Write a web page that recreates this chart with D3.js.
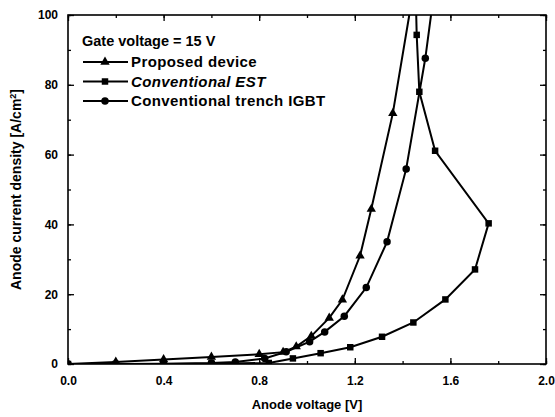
<!DOCTYPE html>
<html>
<head>
<meta charset="utf-8">
<script src="https://cdn.jsdelivr.net/npm/d3@7"></script>
<style>
  body { margin: 0; background: #fff; }
  svg { font-family: "Liberation Sans", Arial, sans-serif; }
</style>
</head>
<body>
<svg id="chart" width="555" height="417"></svg>
<script>
// data
const seriesNames = ["Proposed device", "Conventional EST", "Conventional trench IGBT"];
const seriesShapes = ["triangle", "square", "circle"];

const proposedV = [0.0, 0.2, 0.4, 0.6, 0.8, 0.9, 0.955, 1.018, 1.093, 1.148, 1.222, 1.269, 1.359, 1.428];
const proposedJ = [0.0, 0.6, 1.3, 2.0, 2.8, 3.4, 5.0, 8.0, 13.2, 18.4, 31.0, 44.4, 71.8, 100];

const estV = [0.0, 0.2, 0.4, 0.6, 0.84, 0.941, 1.057, 1.181, 1.314, 1.445, 1.579, 1.703, 1.760, 1.536, 1.470, 1.459, 1.457];
const estJ = [0.0, 0.0, 0.0, 0.1, 0.3, 1.6, 3.1, 4.8, 7.8, 11.9, 18.5, 27.1, 40.3, 61.1, 78.0, 94.3, 100];

const trenchV = [0.0, 0.2, 0.4, 0.6, 0.7, 0.823, 0.913, 1.011, 1.074, 1.156, 1.248, 1.335, 1.415, 1.495, 1.519];
const trenchJ = [0.0, 0.0, 0.1, 0.3, 0.6, 1.6, 3.5, 6.4, 9.2, 13.7, 21.9, 35.0, 55.9, 87.6, 100];

const xTicks = [0.0, 0.4, 0.8, 1.2, 1.6, 2.0];
const yTicks = [0, 20, 40, 60, 80, 100];

const legendTitle = "Gate voltage = 15 V";

const svg = d3.select("#chart");
const margin = { left: 68, right: 9, top: 15, bottom: 53 };
const width = 555 - margin.left - margin.right;
const height = 417 - margin.top - margin.bottom;

const x = d3.scaleLinear().domain([0, 2]).range([0, width]);
const y = d3.scaleLinear().domain([0, 100]).range([height, 0]);

const g = svg.append("g").attr("transform", `translate(${margin.left},${margin.top})`);

g.append("clipPath").attr("id", "clip")
  .append("rect").attr("width", width).attr("height", height);

// ticks, inward on all four sides
const minorX = d3.range(0, 2.01, 0.2);
const minorY = d3.range(0, 101, 10);

function tickStyle(sel) {
  sel.select(".domain").remove();
  sel.selectAll("line").attr("stroke", "#000").attr("stroke-width", 1.3);
}

g.append("g").attr("transform", `translate(0,${height})`)
  .call(d3.axisBottom(x).tickValues(minorX).tickSize(-3).tickFormat(""))
  .call(tickStyle);
g.append("g")
  .call(d3.axisTop(x).tickValues(minorX).tickSize(-3).tickFormat(""))
  .call(tickStyle);
g.append("g")
  .call(d3.axisLeft(y).tickValues(minorY).tickSize(-3).tickFormat(""))
  .call(tickStyle);
g.append("g").attr("transform", `translate(${width},0)`)
  .call(d3.axisRight(y).tickValues(minorY).tickSize(-3).tickFormat(""))
  .call(tickStyle);

const xAxis = g.append("g").attr("transform", `translate(0,${height})`)
  .call(d3.axisBottom(x).tickValues(xTicks).tickSize(-6).tickPadding(12).tickFormat(d3.format(".1f")))
  .call(tickStyle);
g.append("g")
  .call(d3.axisTop(x).tickValues(xTicks).tickSize(-6).tickFormat(""))
  .call(tickStyle);
const yAxis = g.append("g")
  .call(d3.axisLeft(y).tickValues(yTicks).tickSize(-6).tickPadding(10).tickFormat(d3.format("d")))
  .call(tickStyle);
g.append("g").attr("transform", `translate(${width},0)`)
  .call(d3.axisRight(y).tickValues(yTicks).tickSize(-6).tickFormat(""))
  .call(tickStyle);

[xAxis, yAxis].forEach(a => a.selectAll("text")
  .attr("font-size", 12).attr("font-weight", "bold")
  .attr("font-family", "Liberation Sans, Arial, sans-serif").attr("fill", "#000"));

// frame
g.append("rect").attr("width", width).attr("height", height)
  .attr("fill", "none").attr("stroke", "#000").attr("stroke-width", 1.6);

// series
const series = [
  { v: proposedV, j: proposedJ },
  { v: estV, j: estJ },
  { v: trenchV, j: trenchJ }
].map((s, i) => ({
  name: seriesNames[i],
  shape: seriesShapes[i],
  points: s.v.map((v, k) => ({ v: v, j: s.j[k] }))
}));

const symbolType = { triangle: d3.symbolTriangle, square: d3.symbolSquare, circle: d3.symbolCircle };
const symbolSize = { triangle: 38, square: 42, circle: 44 };

const line = d3.line().x(d => x(d.v)).y(d => y(d.j));
const plot = g.append("g").attr("clip-path", "url(#clip)");

series.forEach(s => {
  plot.append("path").datum(s.points)
    .attr("d", line)
    .attr("fill", "none").attr("stroke", "#000").attr("stroke-width", 2);
  plot.selectAll(null)
    .data(s.points.filter(d => d.j < 99))
    .enter().append("path")
    .attr("transform", d => `translate(${x(d.v)},${y(d.j)})`)
    .attr("d", d3.symbol().type(symbolType[s.shape]).size(symbolSize[s.shape]))
    .attr("fill", "#000");
});

// legend
const legend = svg.append("g").attr("font-weight", "bold");
legend.append("text").attr("x", 82).attr("y", 46).attr("font-size", 14.5).text(legendTitle);
series.forEach((s, i) => {
  const ly = 62 + i * 19.5;
  legend.append("line").attr("x1", 83).attr("x2", 128).attr("y1", ly).attr("y2", ly)
    .attr("stroke", "#000").attr("stroke-width", 2);
  legend.append("path").attr("transform", `translate(105,${ly})`)
    .attr("d", d3.symbol().type(symbolType[s.shape]).size(symbolSize[s.shape]))
    .attr("fill", "#000");
  legend.append("text").attr("x", 131).attr("y", ly + 5)
    .attr("font-size", 15).attr("letter-spacing", 0.4)
    .attr("font-style", i === 1 ? "italic" : "normal")
    .text(s.name);
});

// axis titles
svg.append("text").attr("x", margin.left + width / 2).attr("y", 409)
  .attr("text-anchor", "middle").attr("font-size", 13).attr("font-weight", "bold")
  .text("Anode voltage [V]");

const yTitle = svg.append("text")
  .attr("transform", `translate(21,${margin.top + height / 2}) rotate(-90)`)
  .attr("text-anchor", "middle").attr("font-size", 14).attr("font-weight", "bold");
yTitle.append("tspan").text("Anode current density [A/cm");
yTitle.append("tspan").attr("font-size", 9).attr("dy", -5).text("2");
yTitle.append("tspan").attr("dy", 5).text("]");
</script>
</body>
</html>
